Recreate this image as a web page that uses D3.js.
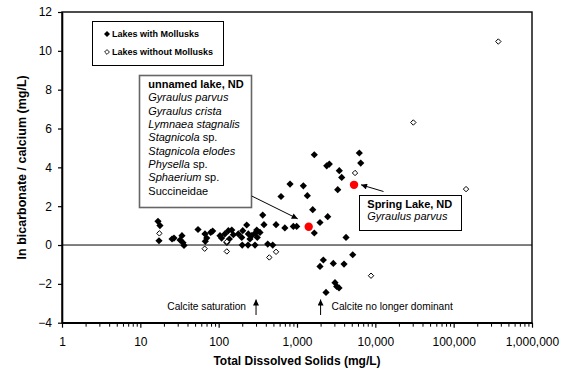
<!DOCTYPE html>
<html><head><meta charset="utf-8">
<script src="https://cdn.jsdelivr.net/npm/d3@7"></script>
<style>
body{margin:0;background:#fff}
text{font-family:Arial,"Liberation Sans",sans-serif;fill:#000}
</style>
</head><body>
<svg id="c" width="561" height="369"></svg>
<script>
// ---- data ----
const withTDS   = [16.8,17.8,17.3,25.4,26.9,34.0,32.1,35.0,36.1,54.5,66.9,70.4,67.5,79.1,83.9,104,109,120,133,147,137,127,154,178,197,203,228,239,251,264,291,306,311,337,200,237,291,423,490,365,379,540,700,898,991,625,815,1205,1355,1588,1663,1663,1966,2466,2395,2585,3467,3722,3311,6244,6508,4227,1966,2168,2908,3984,5144,3055,3213,3439,2346];
const withRatio = [1.22,1.00,0.22,0.31,0.36,0.48,0.26,0.12,-0.02,0.80,0.57,0.36,0.19,0.65,0.72,0.48,0.36,0.57,0.74,0.77,0.31,0.13,0.53,0.57,0.39,0.74,1.03,0.57,0.31,0.48,0.60,0.77,0.39,0.65,0.0,0.0,0.0,0.05,0.0,1.54,1.05,1.05,0.88,0.96,0.96,2.50,3.14,3.05,2.54,1.82,4.65,0.62,1.16,1.46,4.08,4.17,3.83,3.48,2.85,4.74,4.22,0.39,-1.10,-0.77,-0.95,-0.98,-0.50,-1.94,-2.13,-2.21,-2.44];
const withoutTDS   = [17.5,66.3,127,127,443,540,5508,8810,30540,143900,371500];
const withoutRatio = [0.60,-0.19,0.17,-0.33,-0.64,-0.35,3.71,-1.58,6.31,2.88,10.48];
const highlightTDS   = [1410,5345];
const highlightRatio = [0.94,3.10];
const yTicks = [-4,-2,0,2,4,6,8,10,12];
const xTicks = [1,10,100,1000,10000,100000,1000000];
const legendLabels = ["Lakes with Mollusks","Lakes without Mollusks"];
const unnamedLines = [
  [["unnamed lake, ND","b"]],
  [["Gyraulus parvus","i"]],
  [["Gyraulus crista","i"]],
  [["Lymnaea stagnalis","i"]],
  [["Stagnicola","i"],[" sp.","n"]],
  [["Stagnicola elodes","i"]],
  [["Physella","i"],[" sp.","n"]],
  [["Sphaerium","i"],[" sp.","n"]],
  [["Succineidae","n"]]
];
const springLines = [
  [["Spring Lake, ND","b"]],
  [["Gyraulus parvus","i"]]
];
const calciteMarks = [300, 2000];
const calciteLabels = ["Calcite saturation","Calcite no longer dominant"];

// ---- chart ----
const svg = d3.select('#c');
const L=62,R=532,T=12,B=322.7;
const x = d3.scaleLog().domain([1,1e6]).range([L,R]);
const y = d3.scaleLinear().domain([-4,12]).range([B,T]);

const defs = svg.append('defs');
defs.append('marker').attr('id','ah').attr('viewBox','0 0 10 10')
  .attr('refX',10).attr('refY',5).attr('markerWidth',7).attr('markerHeight',6)
  .attr('markerUnits','userSpaceOnUse').attr('orient','auto')
  .append('path').attr('d','M0,0L10,5L0,10Z').attr('fill','#000');

// frame
svg.append('rect').attr('x',L).attr('y',T).attr('width',R-L).attr('height',B-T)
  .attr('fill','none').attr('stroke','#000').attr('stroke-width',1.4);

// zero line
svg.append('line').attr('x1',L).attr('x2',R).attr('y1',y(0)).attr('y2',y(0))
  .attr('stroke','#000').attr('stroke-width',1);

// y axis
const ya = svg.append('g').attr('transform',`translate(${L},0)`)
  .call(d3.axisLeft(y).tickValues(yTicks).tickSize(4).tickSizeOuter(0).tickPadding(6).tickFormat(d3.format('d')));
ya.select('.domain').attr('stroke-width',1.6);
ya.selectAll('.tick line').attr('stroke-width',1.2);
ya.selectAll('text').style('font-size','12px').style('font-family','Arial,"Liberation Sans",sans-serif');

// x minor ticks
const minor = [];
for (let e=0;e<6;e++) for (let k=2;k<10;k++) minor.push(k*Math.pow(10,e));
svg.append('g').attr('transform',`translate(0,${B})`)
  .call(d3.axisBottom(x).tickValues(minor).tickSize(4).tickSizeOuter(0).tickFormat(''))
  .call(g=>g.select('.domain').remove())
  .selectAll('.tick line').attr('stroke-width',1);
const xa = svg.append('g').attr('transform',`translate(0,${B})`)
  .call(d3.axisBottom(x).tickValues(xTicks).tickSize(5).tickSizeOuter(0).tickPadding(10).tickFormat(d3.format(',')));
xa.select('.domain').attr('stroke-width',1.6);
xa.selectAll('.tick line').attr('stroke-width',1.2);
xa.selectAll('text').style('font-size','12px').style('font-family','Arial,"Liberation Sans",sans-serif');

// titles
svg.append('text').attr('x',(L+R)/2).attr('y',365).attr('text-anchor','middle')
  .style('font-size','12px').style('font-weight','bold').text('Total Dissolved Solids (mg/L)');
svg.append('text').attr('transform',`translate(25.5,${(T+B)/2}) rotate(-90)`).attr('text-anchor','middle')
  .style('font-size','12.5px').style('font-weight','bold').text('ln bicarbonate / calcium (mg/L)');

// markers
const diamond = r => `M0,${-r}L${r},0L0,${r}L${-r},0Z`;
const withData = withTDS.map((t,i)=>({t, v:withRatio[i]}));
const withoutData = withoutTDS.map((t,i)=>({t, v:withoutRatio[i]}));
const hiData = highlightTDS.map((t,i)=>({t, v:highlightRatio[i]}));

svg.append('g').selectAll('path').data(withData).join('path')
  .attr('d',diamond(3.6)).attr('transform',d=>`translate(${x(d.t)},${y(d.v)})`)
  .attr('fill','#000');
svg.append('g').selectAll('path').data(withoutData).join('path')
  .attr('d',diamond(2.7)).attr('transform',d=>`translate(${x(d.t)},${y(d.v)})`)
  .attr('fill','#fff').attr('stroke','#000').attr('stroke-width',1);
svg.append('g').selectAll('circle').data(hiData).join('circle')
  .attr('cx',d=>x(d.t)).attr('cy',d=>y(d.v)).attr('r',4.2).attr('fill','#ff0000');

// legend
const lg = svg.append('g');
lg.append('rect').attr('x',92.5).attr('y',21.5).attr('width',131).attr('height',44)
  .attr('fill','#fff').attr('stroke','#000').attr('stroke-width',1);
const lgY=[34,52];
lg.append('path').attr('d',diamond(3)).attr('transform',`translate(107,${lgY[0]})`).attr('fill','#000');
lg.append('path').attr('d',diamond(2.4)).attr('transform',`translate(107,${lgY[1]})`)
  .attr('fill','#fff').attr('stroke','#000').attr('stroke-width',0.9);
legendLabels.forEach((s,i)=>lg.append('text').attr('x',112).attr('y',lgY[i]+3.2)
  .style('font-size','9px').style('font-weight','bold').text(s));

// text boxes
function textBox(x0,y0,w,h,lines,baseline0,step,stroke,sw,tx){
  const g = svg.append('g');
  g.append('rect').attr('x',x0).attr('y',y0).attr('width',w).attr('height',h)
    .attr('fill','#fff').attr('stroke',stroke).attr('stroke-width',sw);
  lines.forEach((ln,i)=>{
    const t = g.append('text').attr('x',tx).attr('y',baseline0+i*step).style('font-size','11px');
    ln.forEach(([s,st])=>{
      const sp=t.append('tspan').text(s);
      if(st==='b') sp.style('font-weight','bold');
      if(st==='i') sp.style('font-style','italic');
    });
  });
}
textBox(139.5,75.5,112,132,unnamedLines,88,13.33,'#666',1.6,148.3);
textBox(359.5,195.5,102,35,springLines,207.5,12.8,'#000',1,367.3);

// annotation arrows
const p1 = hiData[0], p2 = hiData[1];
svg.append('line').attr('x1',251.7).attr('y1',196).attr('x2',x(p1.t)-11).attr('y2',y(p1.v)-8)
  .attr('stroke','#000').attr('stroke-width',1).attr('marker-end','url(#ah)');
svg.append('line').attr('x1',383.5).attr('y1',191.5).attr('x2',x(p2.t)+7).attr('y2',y(p2.v))
  .attr('stroke','#000').attr('stroke-width',1).attr('marker-end','url(#ah)');

// calcite notes
calciteMarks.forEach((m,i)=>{
  svg.append('line').attr('x1',x(m)).attr('x2',x(m)).attr('y1',315).attr('y2',299.5)
    .attr('stroke','#000').attr('stroke-width',1).attr('marker-end','url(#ah)');
});
svg.append('text').attr('x',x(calciteMarks[0])-10).attr('y',309.5).attr('text-anchor','end')
  .style('font-size','10.2px').text(calciteLabels[0]);
svg.append('text').attr('x',x(calciteMarks[1])+11).attr('y',309.5)
  .style('font-size','10.2px').text(calciteLabels[1]);
</script>
</body></html>
